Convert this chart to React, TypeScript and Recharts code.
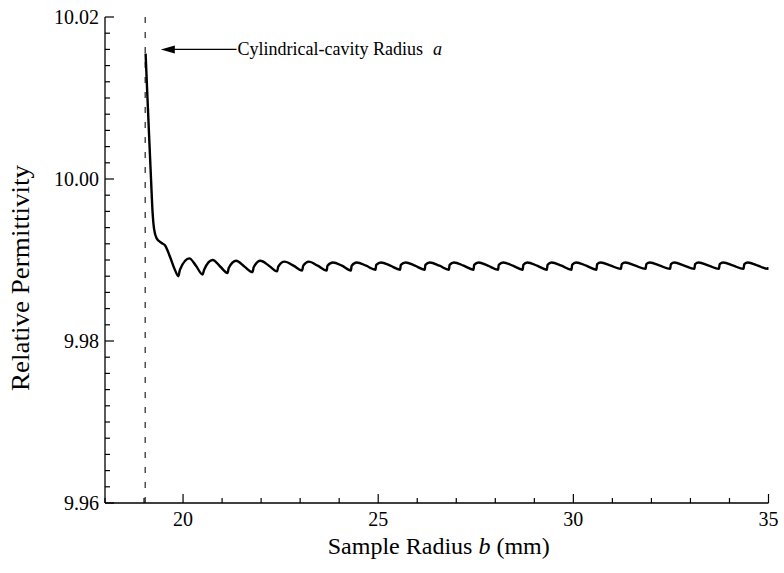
import React from 'react';
import { LineChart, Line, XAxis, YAxis, ReferenceLine } from 'recharts';

// sample radius b (mm)
const radiusMm = [
  19.04, 19.09, 19.135, 19.18, 19.22, 19.255, 19.32, 19.45, 19.54, 19.665, 19.79,
  19.88, 19.92, 20.16, 20.33,
  20.50, 20.54, 20.76, 20.95,
  21.14, 21.17, 21.36, 21.57,
  21.78, 21.81, 21.98, 22.20,
  22.41, 22.44, 22.60, 22.83,
  23.05, 23.08, 23.22, 23.45,
  23.68, 23.70, 23.84, 24.07,
  24.30, 24.32, 24.45, 24.69,
  24.93, 24.95, 25.07, 25.31,
  25.56, 25.58, 25.70, 25.94,
  26.19, 26.21, 26.32, 26.57,
  26.81, 26.83, 26.94, 27.19,
  27.44, 27.46, 27.57, 27.81,
  28.07, 28.09, 28.20, 28.45,
  28.70, 28.72, 28.82, 29.07,
  29.32, 29.34, 29.44, 29.70,
  29.95, 29.97, 30.07, 30.33,
  30.59, 30.61, 30.70, 30.96,
  31.22, 31.24, 31.33, 31.59,
  31.85, 31.87, 31.96, 32.22,
  32.48, 32.50, 32.59, 32.84,
  33.10, 33.12, 33.21, 33.47,
  33.73, 33.75, 33.84, 34.10,
  34.36, 34.38, 34.47, 34.73,
  34.99, 35.00,
];

// relative permittivity
const permittivity = [
  10.0155, 10.0098, 10.0048, 9.9999, 9.9958, 9.9939, 9.9927, 9.9921, 9.9918, 9.9904, 9.9888,
  9.9880, 9.9888, 9.9902, 9.9893,
  9.9882, 9.9888, 9.9900, 9.9892,
  9.9884, 9.9890, 9.9899, 9.9892,
  9.9885, 9.9891, 9.9899, 9.9893,
  9.9886, 9.9892, 9.9898, 9.9893,
  9.9887, 9.9893, 9.9898, 9.9893,
  9.9887, 9.9893, 9.9897, 9.9893,
  9.9887, 9.9893, 9.9897, 9.9893,
  9.9888, 9.9894, 9.9897, 9.9893,
  9.9888, 9.9894, 9.9897, 9.9893,
  9.9888, 9.9894, 9.9897, 9.9893,
  9.9888, 9.9894, 9.9897, 9.9893,
  9.9888, 9.9894, 9.9897, 9.9893,
  9.9888, 9.9894, 9.9897, 9.9893,
  9.9888, 9.9894, 9.9897, 9.9893,
  9.9888, 9.9894, 9.9897, 9.9893,
  9.9888, 9.9894, 9.9897, 9.9893,
  9.9888, 9.9895, 9.9897, 9.9893,
  9.9889, 9.9895, 9.9897, 9.9893,
  9.9889, 9.9895, 9.9897, 9.9893,
  9.9889, 9.9895, 9.9897, 9.9893,
  9.9889, 9.9895, 9.9897, 9.9893,
  9.9889, 9.9895, 9.9897, 9.9893,
  9.9889, 9.9895, 9.9897, 9.9893,
  9.9889, 9.9891,
];

const cavityRadius = 19.03;
const arrowTip = { x: 19.43, y: 10.016 };
const arrowTail = { x: 21.37, y: 10.016 };

const xTicks = [18, 19, 20, 21, 22, 23, 24, 25, 26, 27, 28, 29, 30, 31, 32, 33, 34, 35];
const xLabelTicks = [20, 25, 30, 35];
const yTicks = [
  9.96, 9.962, 9.964, 9.966, 9.968, 9.97, 9.972, 9.974, 9.976, 9.978,
  9.98, 9.982, 9.984, 9.986, 9.988, 9.99, 9.992, 9.994, 9.996, 9.998,
  10.0, 10.002, 10.004, 10.006, 10.008, 10.01, 10.012, 10.014, 10.016, 10.018, 10.02,
];
const yLabelTicks = [9.96, 9.98, 10.0, 10.02];

const data = radiusMm.map((b, i) => ({ b, eps: permittivity[i] }));

const FONT = '"Liberation Serif", "Times New Roman", serif';
const isIn = (list: number[], v: number) => list.some((t) => Math.abs(t - v) < 1e-9);

const BottomTick = (props: any) => {
  const { x, y, payload } = props;
  const major = isIn(xLabelTicks, payload.value);
  return (
    <g>
      <line x1={x} x2={x} y1={y} y2={y - (major ? 9 : 5)} stroke="#000" strokeWidth={1.2} />
      {major && (
        <text x={x} y={y + 23} textAnchor="middle" fontFamily={FONT} fontSize={20} fill="#000">
          {payload.value}
        </text>
      )}
    </g>
  );
};

const LeftTick = (props: any) => {
  const { x, y, payload } = props;
  const major = isIn(yLabelTicks, payload.value);
  return (
    <g>
      <line x1={x} x2={x + (major ? 9 : 5)} y1={y} y2={y} stroke="#000" strokeWidth={1.2} />
      {major && (
        <text x={x - 6} y={y + 7} textAnchor="end" fontFamily={FONT} fontSize={20} fill="#000">
          {payload.value.toFixed(2)}
        </text>
      )}
    </g>
  );
};

const RightTick = (props: any) => {
  const { x, y, payload } = props;
  const major = isIn(yLabelTicks, payload.value);
  return <line x1={x} x2={x - (major ? 9 : 5)} y1={y} y2={y} stroke="#000" strokeWidth={1.2} />;
};

const ArrowNote = (props: any) => {
  const left = Math.min(props.x1, props.x2);
  const right = Math.max(props.x1, props.x2);
  const y = props.y1;
  return (
    <g>
      <line x1={left + 12} x2={right} y1={y} y2={y} stroke="#000" strokeWidth={1.2} />
      <polygon points={`${left},${y} ${left + 14},${y - 4} ${left + 14},${y + 4}`} fill="#000" />
      <text x={right + 1} y={y + 6} fontFamily={FONT} fontSize={18} fill="#000">
        Cylindrical-cavity Radius
        <tspan dx={10} fontStyle="italic">a</tspan>
      </text>
    </g>
  );
};

export default function App() {
  return (
    <div style={{ position: 'absolute', left: 0, top: 0, background: '#fff' }}>
      <LineChart width={784} height={573} data={data} margin={{ top: 17, right: 15.5, bottom: 0, left: 0 }}>
        <XAxis
          dataKey="b"
          type="number"
          domain={[18, 35]}
          ticks={xTicks}
          interval={0}
          allowDataOverflow
          height={70}
          tickSize={0}
          tickMargin={0}
          tickLine={false}
          tick={<BottomTick />}
          axisLine={{ stroke: '#000', strokeWidth: 1.3 }}
          label={{
            content: (p: any) => {
              const vb = p.viewBox;
              return (
                <text x={vb.x + vb.width / 2 + 2} y={vb.y + 51} textAnchor="middle" fontFamily={FONT} fontSize={24} fill="#000">
                  Sample Radius <tspan fontStyle="italic">b</tspan> (mm)
                </text>
              );
            },
          }}
        />
        <XAxis
          xAxisId="top"
          orientation="top"
          type="number"
          domain={[18, 35]}
          allowDataOverflow
          height={0}
          tick={false}
          tickLine={false}
          axisLine={{ stroke: '#000', strokeWidth: 1.3 }}
        />
        <YAxis
          type="number"
          domain={[9.96, 10.02]}
          ticks={yTicks}
          interval={0}
          allowDataOverflow
          width={105}
          tickSize={0}
          tickMargin={0}
          tickLine={false}
          tick={<LeftTick />}
          axisLine={{ stroke: '#000', strokeWidth: 1.3 }}
          label={{
            content: (p: any) => {
              const vb = p.viewBox;
              const cx = vb.x + 29;
              const cy = vb.y + vb.height / 2 + 18;
              return (
                <text
                  x={cx}
                  y={cy}
                  transform={`rotate(-90, ${cx}, ${cy})`}
                  textAnchor="middle"
                  fontFamily={FONT}
                  fontSize={25}
                  textLength={226}
                  lengthAdjust="spacingAndGlyphs"
                  fill="#000"
                >
                  Relative Permittivity
                </text>
              );
            },
          }}
        />
        <YAxis
          yAxisId="right"
          orientation="right"
          type="number"
          domain={[9.96, 10.02]}
          ticks={yTicks}
          interval={0}
          allowDataOverflow
          width={0}
          tickSize={0}
          tickMargin={0}
          tickLine={false}
          tick={<RightTick />}
          axisLine={{ stroke: '#000', strokeWidth: 1.3 }}
        />
        <ReferenceLine x={cavityRadius} stroke="#333" strokeWidth={1.3} strokeDasharray="6 9" />
        <ReferenceLine segment={[arrowTip, arrowTail]} shape={ArrowNote} />
        <Line
          type="monotone"
          dataKey="eps"
          stroke="#000"
          strokeWidth={2.4}
          dot={false}
          isAnimationActive={false}
        />
      </LineChart>
    </div>
  );
}
